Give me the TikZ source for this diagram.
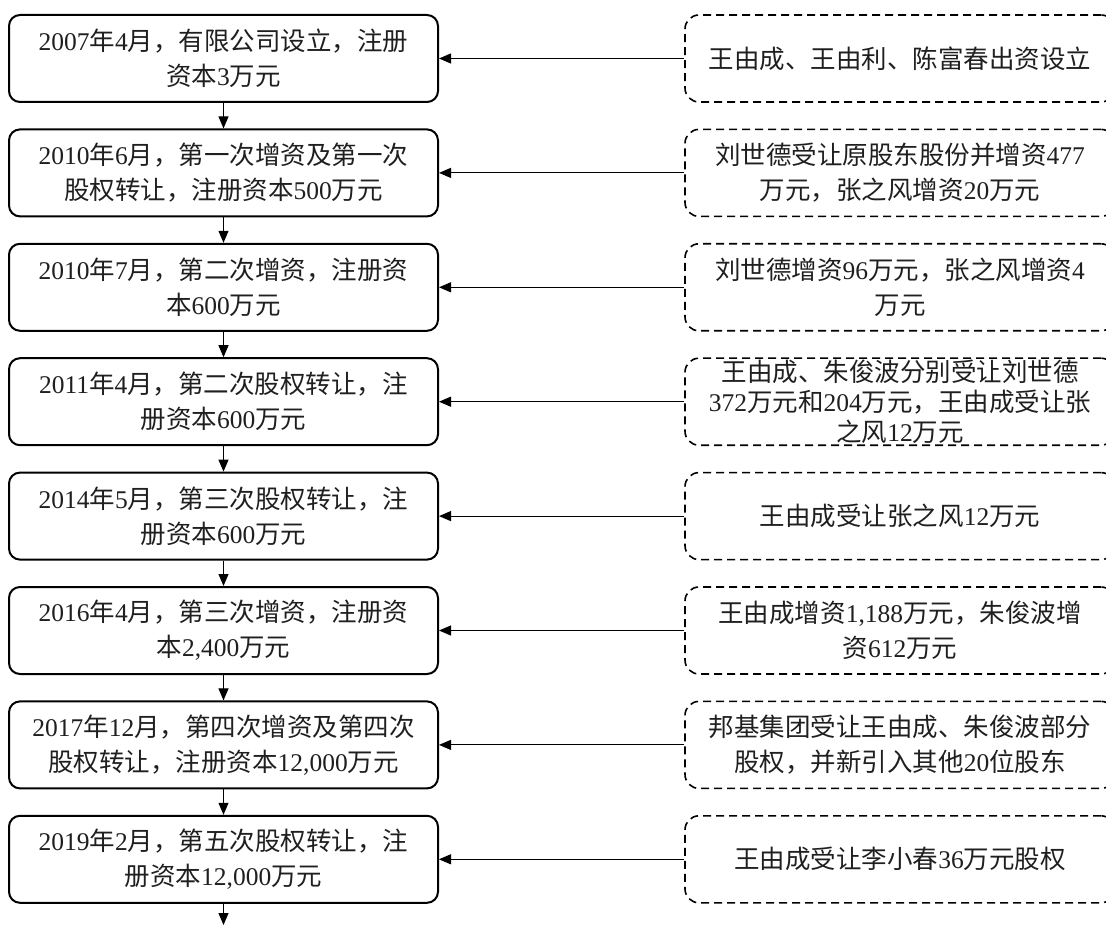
\documentclass[tikz,border=0pt]{standalone}
\usepackage{fontspec}
\setmainfont{Noto Sans CJK SC}
\newfontfamily\latinf{Liberation Serif}
\newcommand\nm[1]{{\latinf #1}}
\usetikzlibrary{arrows.meta}
\begin{document}
\begin{tikzpicture}[x=1pt,y=-1pt,
  txt/.style={align=center, inner sep=0pt, text=black!88, font=\fontsize{25.5}{35}\selectfont},
  lbox/.style={txt, draw=black, line width=2pt, rounded corners=11pt, minimum width=429pt, minimum height=87pt},
  rbox/.style={txt, draw=black, line width=1.6pt, dash pattern=on 8pt off 5pt, rounded corners=14pt, minimum width=430pt, minimum height=87pt},
  conn/.style={line width=1.1pt, draw=black, -{Triangle[length=12pt,width=10pt]}}]
\clip (0,0) rectangle (1106,925);
\useasboundingbox (0,0) rectangle (1106,925);

\node[lbox] (l1) at (223.5,58.5) {\nm{2007}年\nm{4}月，有限公司设立，注册\\资本\nm{3}万元};
\node[lbox] (l2) at (223.5,172.9) {\nm{2010}年\nm{6}月，第一次增资及第一次\\股权转让，注册资本\nm{500}万元};
\node[lbox] (l3) at (223.5,287.3) {\nm{2010}年\nm{7}月，第二次增资，注册资\\本\nm{600}万元};
\node[lbox] (l4) at (223.5,401.7) {\nm{2011}年\nm{4}月，第二次股权转让，注\\册资本\nm{600}万元};
\node[lbox] (l5) at (223.5,516.1) {\nm{2014}年\nm{5}月，第三次股权转让，注\\册资本\nm{600}万元};
\node[lbox] (l6) at (223.5,630.5) {\nm{2016}年\nm{4}月，第三次增资，注册资\\本\nm{2,400}万元};
\node[lbox] (l7) at (223.5,744.9) {\nm{2017}年\nm{12}月，第四次增资及第四次\\股权转让，注册资本\nm{12,000}万元};
\node[lbox] (l8) at (223.5,859.3) {\nm{2019}年\nm{2}月，第五次股权转让，注\\册资本\nm{12,000}万元};

\node[rbox] (r1) at (900,58.5) {王由成、王由利、陈富春出资设立};
\node[rbox] (r2) at (900,172.9) {刘世德受让原股东股份并增资\nm{477}\\万元，张之风增资\nm{20}万元};
\node[rbox] (r3) at (900,287.3) {刘世德增资\nm{96}万元，张之风增资\nm{4}\\万元};
\node[rbox, font=\fontsize{25.5}{30}\selectfont] (r4) at (900,401.7) {王由成、朱俊波分别受让刘世德\\\nm{372}万元和\nm{204}万元，王由成受让张\\之风\nm{12}万元};
\node[rbox] (r5) at (900,516.1) {王由成受让张之风\nm{12}万元};
\node[rbox] (r6) at (900,630.5) {王由成增资\nm{1,188}万元，朱俊波增\\资\nm{612}万元};
\node[rbox] (r7) at (900,744.9) {邦基集团受让王由成、朱俊波部分\\股权，并新引入其他\nm{20}位股东};
\node[rbox] (r8) at (900,859.3) {王由成受让李小春\nm{36}万元股权};

\coordinate (end) at (223.5,925);

\foreach \a/\b in {l1/l2,l2/l3,l3/l4,l4/l5,l5/l6,l6/l7,l7/l8}
  \draw[conn] (\a.south) -- (\b.north);
\draw[conn] (l8.south) -- (end);
\foreach \i in {1,...,8}
  \draw[conn] (r\i.west) -- (l\i.east);
\end{tikzpicture}
\end{document}
